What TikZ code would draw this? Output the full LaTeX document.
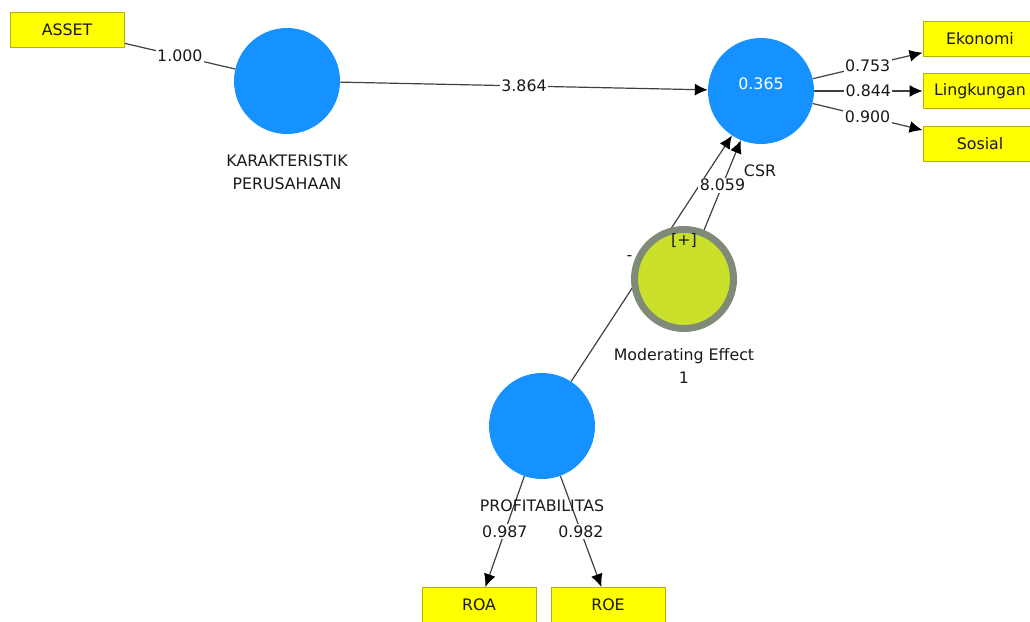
\documentclass[tikz,border=0pt]{standalone}
\usepackage{fontspec}
\setmainfont{DejaVu Sans}
\usetikzlibrary{arrows.meta}
\pgfdeclarelayer{background}
\pgfsetlayers{background,main}

\begin{document}
\begin{tikzpicture}[x=1pt, y=-1pt]
  \definecolor{lvblue}{HTML}{1592FF}
  \definecolor{mvyellow}{HTML}{FFFF00}
  \definecolor{mvborder}{HTML}{B4B400}
  \definecolor{modfill}{HTML}{CBE02A}
  \definecolor{modring}{HTML}{7F8B78}
  \tikzstyle{every node}=[font=\fontsize{15.8}{23}\selectfont, text=black!90]
  \tikzstyle{latent}=[circle, fill=lvblue, minimum size=106pt, inner sep=0pt]
  \tikzstyle{indicator}=[rectangle, fill=mvyellow, draw=mvborder, line width=1pt, minimum width=114pt, minimum height=35pt, inner sep=0pt]
  \tikzstyle{caption}=[align=center]
  \tikzstyle{weight}=[fill=white, inner sep=1.5pt]
  \tikzstyle{link}=[draw=black!75, line width=1.2pt]
  \tikzstyle{arc}=[link, -{Latex[length=13pt, width=12pt, black]}]

  \useasboundingbox (0,0) rectangle (1030,621);

  % constructs
  \node (kp) [latent] at (287,81) {};
  \node (csr) [latent] at (761,91) {};
  \node (prof) [latent] at (542,426) {};
  \node (mod) [latent, fill=modfill, draw=modring, line width=7pt, minimum size=99pt] at (684,279) {};
  \node (rsq) [text=white] at (761,84) {0.365};
  \node (modsign) at (684,241) {[+]};

  \node (kpcap) [caption] at (287,172) {KARAKTERISTIK\\PERUSAHAAN};
  \node (csrcap) [caption] at (760,171) {CSR};
  \node (modcap) [caption] at (684,366) {Moderating Effect\\1};
  \node (profcap) [caption] at (542,506) {PROFITABILITAS};

  % indicators
  \node (asset) [indicator] at (67,30) {ASSET};
  \node (eko) [indicator] at (980,39) {Ekonomi};
  \node (ling) [indicator] at (980,91) {Lingkungan};
  \node (sos) [indicator] at (980,144) {Sosial};
  \node (roa) [indicator] at (479,605) {ROA};
  \node (roe) [indicator] at (608,605) {ROE};

  \begin{pgfonlayer}{background}
    \draw[link] (asset) -- node[weight] {1.000} (kp);
    \draw[arc] (kp) -- node[weight] {3.864} (csr);
    \draw[arc] (prof) -- node[weight, pos=.5, xshift=-22pt] {-} (csr);
    \draw[arc] (mod) -- node[weight] {8.059} (csr);
    \draw[arc] (csr) -- node[weight] {0.753} (eko);
    \draw[arc] (csr) -- node[weight] {0.844} (ling);
    \draw[arc] (csr) -- node[weight] {0.900} (sos);
    \draw[arc] (prof) -- node[weight] {0.987} (roa);
    \draw[arc] (prof) -- node[weight] {0.982} (roe);
  \end{pgfonlayer}
\end{tikzpicture}
\end{document}
